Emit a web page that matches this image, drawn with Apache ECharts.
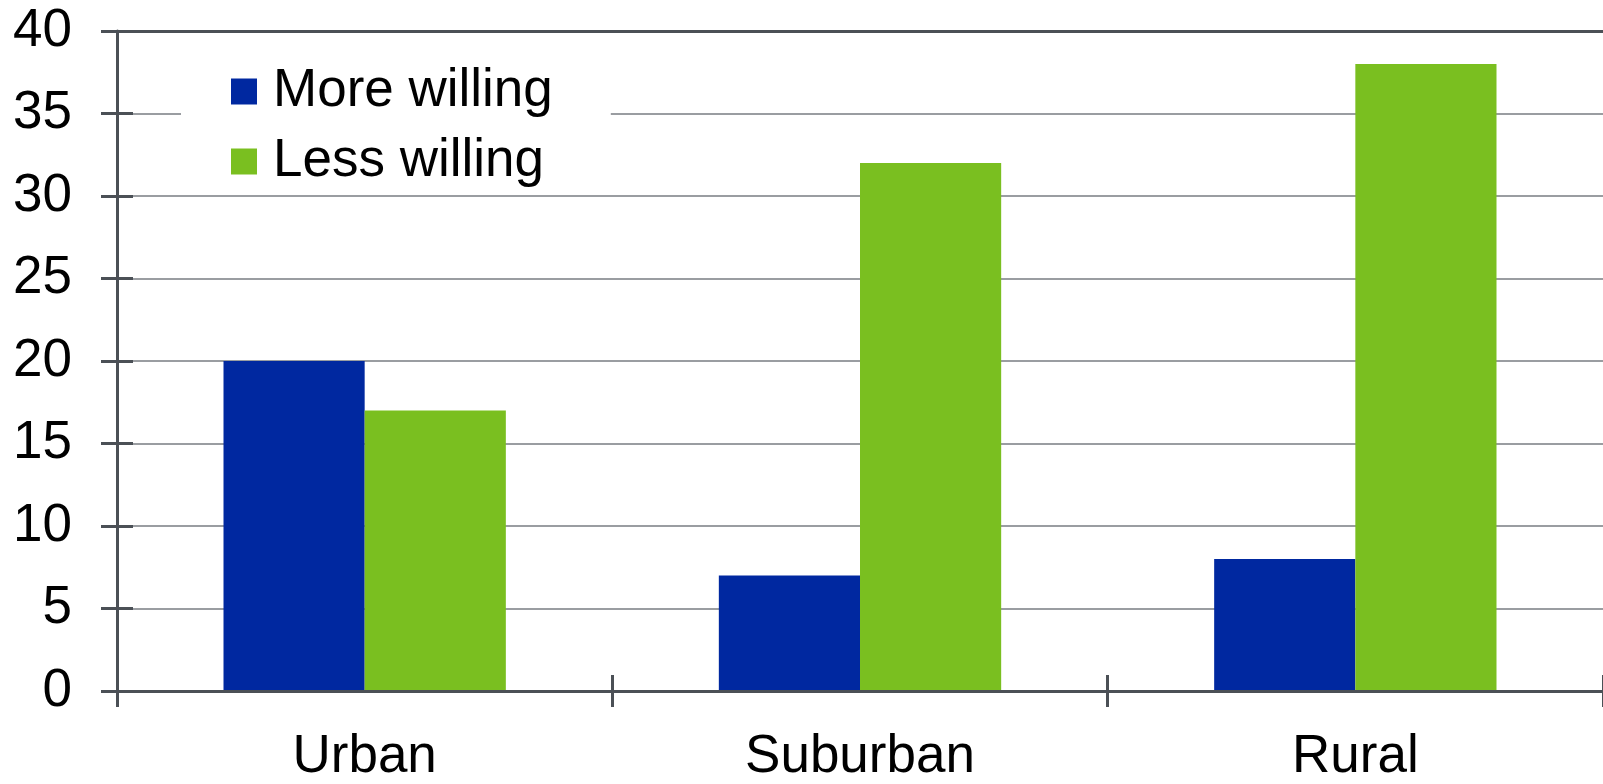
<!DOCTYPE html>
<html>
<head>
<meta charset="utf-8">
<script src="https://cdn.jsdelivr.net/npm/echarts@6/dist/echarts.min.js"></script>
<style>
  html, body { margin: 0; padding: 0; background: #ffffff; }
  #chart { width: 1603px; height: 784px; }
</style>
</head>
<body>
<div id="chart"></div>
<script>
const categories = ['Urban', 'Suburban', 'Rural'];
const moreWilling = [20, 7, 8];
const lessWilling = [17, 32, 38];
const seriesNames = ['More willing', 'Less willing'];

const FONT = "'Liberation Sans', Arial, sans-serif";
const AXIS_COLOR = '#4b5056';
const GRID_COLOR = '#9a9da1';
const FS = 53;

const chart = echarts.init(document.getElementById('chart'), null, { renderer: 'canvas' });

const option = {
  backgroundColor: '#ffffff',
  animation: false,
  textStyle: { fontFamily: FONT },
  grid: { left: 117, right: -5, top: 31, bottom: 83, containLabel: false },
  legend: {
    orient: 'vertical',
    left: 181,
    top: 45,
    padding: [20, 58, 4, 50],
    backgroundColor: '#ffffff',
    itemWidth: 26,
    itemHeight: 26,
    itemGap: 17,
    icon: 'rect',
    textStyle: { fontSize: FS, color: '#000000', fontFamily: FONT, padding: [0, 0, 0, 11] },
    data: seriesNames
  },
  xAxis: [
    {
      type: 'category',
      data: categories,
      position: 'bottom',
      z: 3,
      axisLine: { show: true, lineStyle: { color: AXIS_COLOR, width: 3 } },
      axisTick: { show: true, length: 16, lineStyle: { color: AXIS_COLOR, width: 3 } },
      axisLabel: { fontSize: FS, color: '#000000', margin: 40, fontFamily: FONT },
      splitLine: { show: false }
    },
    {
      type: 'category',
      data: categories,
      position: 'bottom',
      z: 3,
      axisLine: { show: false },
      axisTick: { show: true, inside: true, length: 16, lineStyle: { color: AXIS_COLOR, width: 3 } },
      axisLabel: { show: false },
      splitLine: { show: false }
    },
    {
      type: 'category',
      data: categories,
      position: 'top',
      z: 3,
      axisLine: { show: true, lineStyle: { color: AXIS_COLOR, width: 3 } },
      axisTick: { show: false },
      axisLabel: { show: false },
      splitLine: { show: false }
    }
  ],
  yAxis: [
    {
      type: 'value',
      min: 0,
      max: 40,
      interval: 5,
      position: 'left',
      axisLine: { show: true, lineStyle: { color: AXIS_COLOR, width: 3 } },
      axisTick: { show: true, length: 16, lineStyle: { color: AXIS_COLOR, width: 3 } },
      axisLabel: { fontSize: FS, color: '#000000', margin: 45, fontFamily: FONT },
      splitLine: { show: true, lineStyle: { color: GRID_COLOR, width: 2 } }
    },
    {
      type: 'value',
      min: 0,
      max: 40,
      interval: 5,
      position: 'left',
      axisLine: { show: false },
      axisTick: { show: true, inside: true, length: 16, lineStyle: { color: AXIS_COLOR, width: 3 } },
      axisLabel: { show: false },
      splitLine: { show: false }
    }
  ],
  series: [
    {
      name: seriesNames[0],
      type: 'bar',
      xAxisIndex: 0,
      yAxisIndex: 0,
      data: moreWilling,
      barGap: '0%',
      barCategoryGap: '43%',
      itemStyle: { color: '#0028a0' }
    },
    {
      name: seriesNames[1],
      type: 'bar',
      xAxisIndex: 0,
      yAxisIndex: 0,
      data: lessWilling,
      barGap: '0%',
      barCategoryGap: '43%',
      itemStyle: { color: '#7abf20' }
    }
  ]
};

chart.setOption(option);
</script>
</body>
</html>
